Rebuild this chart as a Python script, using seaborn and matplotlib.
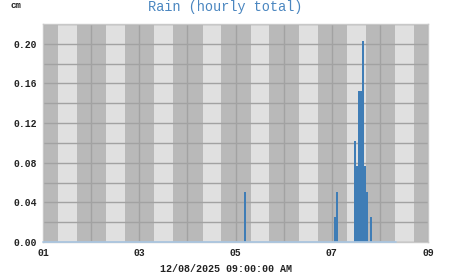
import numpy as np
import pandas as pd
import matplotlib
matplotlib.use("Agg")
import matplotlib.pyplot as plt
import matplotlib.dates as mdates
import seaborn as sns

# ---- data ----
rain_times = ["2025-12-05 04:00", "2025-12-07 01:00", "2025-12-07 02:00",
              "2025-12-07 11:00", "2025-12-07 12:00", "2025-12-07 13:00",
              "2025-12-07 14:00", "2025-12-07 15:00", "2025-12-07 16:00",
              "2025-12-07 17:00", "2025-12-07 19:00"]
rain_cm = [0.0508, 0.0254, 0.0508, 0.1016, 0.0762, 0.1524,
           0.1524, 0.2032, 0.0762, 0.0508, 0.0254]
x_start = "2025-12-01 00:00"
x_end = "2025-12-09 00:00"
data_end = "2025-12-08 08:00"
y_ticks = [0.00, 0.04, 0.08, 0.12, 0.16, 0.20]
title = "Rain (hourly total)"
x_label = "12/08/2025 09:00:00 AM"
unit_label = "cm"

sns.set_style("white")
mono = ["Liberation Mono", "DejaVu Sans Mono"]
plt.rcParams["font.family"] = mono

fig = plt.figure(figsize=(4.51, 2.75), dpi=100)
ax = fig.add_axes([43/451, 1 - 242/275, (428-43)/451, (242-24)/275])

t0 = mdates.date2num(pd.Timestamp(x_start))
t1 = mdates.date2num(pd.Timestamp(x_end))
tend = mdates.date2num(pd.Timestamp(data_end))
xs = mdates.date2num(pd.to_datetime(rain_times)) + 0.5/24

# day / night background bands
ax.set_facecolor("#b9b9b9")
for d in range(8):
    ax.axvspan(t0 + d + 7.6/24, t0 + d + 16.9/24, color="#e0e0e0", lw=0, zorder=0.1)

df = pd.DataFrame({"t": xs, "rain": rain_cm})
sns.histplot(data=df, x="t", weights="rain", binwidth=1/24, binrange=(t0, tend),
             ax=ax, color="#3f7db6", alpha=1, linewidth=0, zorder=2)

ax.plot([t0, tend], [0, 0], color="#a9c6e2", lw=1.2, zorder=3, clip_on=False)

ax.set_xlim(t0, t1)
ax.set_ylim(0, 0.22)
ax.set_axisbelow(True)

ax.xaxis.set_major_locator(mdates.DayLocator(bymonthday=[1, 3, 5, 7, 9]))
ax.xaxis.set_minor_locator(mdates.DayLocator())
ax.xaxis.set_major_formatter(mdates.DateFormatter("%d"))
ax.set_yticks(y_ticks)
ax.set_yticks(np.arange(0, 0.2201, 0.02), minor=True)
ax.yaxis.set_major_formatter(matplotlib.ticker.FormatStrFormatter("%.2f"))

ax.grid(True, which="both", color="#a2a2a2", lw=1.0)
ax.tick_params(axis="both", which="both", length=0, labelsize=7, colors="#222222")
ax.tick_params(axis="x", pad=4)
ax.tick_params(axis="y", pad=4)
for lab in ax.get_xticklabels() + ax.get_yticklabels():
    lab.set_fontweight("bold")

ax.set_xlabel("")
ax.set_ylabel("")
for s in ax.spines.values():
    s.set_color("#c8c8c8")
    s.set_linewidth(1)

fig.text(226/451, 1 - 269/275, x_label, ha="center", va="center", fontsize=7.2,
         fontweight="bold", color="#222222", family=mono)
fig.text(225/451, 1 - 7/275, title, ha="center", va="center", fontsize=9.8,
         color="#4a86c0", family=mono)
fig.text(16/451, 1 - 6/275, unit_label, ha="center", va="center", fontsize=6.5,
         fontweight="bold", color="#222222", family=mono)

fig.savefig("out.png", dpi=100)
